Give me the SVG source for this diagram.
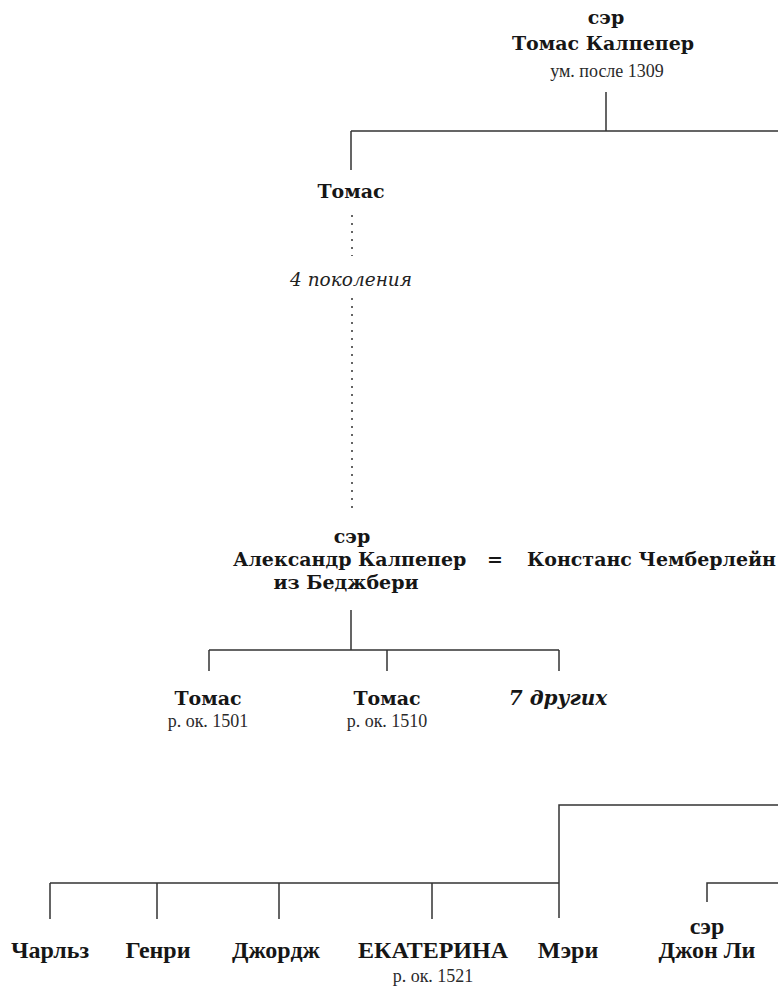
<svg xmlns="http://www.w3.org/2000/svg" width="778" height="990" viewBox="0 0 778 990">
<style>
.n{font-family:"DejaVu Serif","Liberation Serif",serif;font-weight:bold;font-size:19px;fill:#161616;text-anchor:middle}
.s{font-family:"Liberation Serif",serif;font-size:18px;fill:#2a2a2a;text-anchor:middle}
.i{font-family:"DejaVu Serif","Liberation Serif",serif;font-style:italic;font-size:18.5px;fill:#222;text-anchor:middle}
.bi{font-family:"DejaVu Serif","Liberation Serif",serif;font-style:italic;font-weight:bold;font-size:20px;fill:#161616;text-anchor:middle}
.b{font-family:"Liberation Serif",serif;font-weight:bold;font-size:24px;fill:#161616;text-anchor:middle}
.l{stroke:#333;stroke-width:1.5;fill:none}
.d{stroke:#333;stroke-width:1.5;fill:none;stroke-dasharray:2 6}
</style>
<rect width="778" height="990" fill="#fff"/>
<g id="connectors">
<path class="l" d="M606 92V131M351 131H778M351 131V170"/>
<path class="d" d="M352 215V256M352 298V513"/>
<path class="l" d="M351 610V650M209 650H559M209 650V671M387 650V671M559 650V671"/>
<path class="l" d="M778 805H559V918M50 883H559M50 883V919M157 883V919M279 883V919M432 883V919"/>
<path class="l" d="M778 883H707V902"/>
</g>
<g id="thomas-culpeper-sr">
<text class="n" x="606" y="24">сэр</text>
<text class="n" x="603" y="50">Томас Калпепер</text>
<text class="s" x="607" y="77">ум. после 1309</text>
</g>
<g id="thomas-1">
<text class="n" x="351" y="198">Томас</text>
</g>
<g id="generations">
<text class="i" x="351" y="286">4 поколения</text>
</g>
<g id="alexander">
<text class="n" x="352" y="543">сэр</text>
<text class="n" x="233" y="566" style="text-anchor:start">Александр Калпепер</text>
<text class="n" x="346" y="589">из Беджбери</text>
</g>
<g id="eq">
<text class="n" x="495" y="566">=</text>
</g>
<g id="constance">
<text class="n" x="776" y="566" style="text-anchor:end">Констанс Чемберлейн</text>
</g>
<g id="thomas-1501">
<text class="n" x="208" y="705">Томас</text>
<text class="s" x="208" y="727">р. ок. 1501</text>
</g>
<g id="thomas-1510">
<text class="n" x="387" y="705">Томас</text>
<text class="s" x="387" y="727">р. ок. 1510</text>
</g>
<g id="seven-others">
<text class="bi" x="558" y="705">7 других</text>
</g>
<g id="charles"><text class="b" x="50" y="958">Чарльз</text></g>
<g id="henry"><text class="b" x="158" y="958">Генри</text></g>
<g id="george"><text class="b" x="276" y="958">Джордж</text></g>
<g id="catherine"><text class="b" x="433" y="958">ЕКАТЕРИНА</text><text class="s" x="433" y="982">р. ок. 1521</text></g>
<g id="mary"><text class="b" x="568" y="958">Мэри</text></g>
<g id="john-leigh"><text class="b" x="707" y="934">сэр</text><text class="b" x="707" y="958">Джон Ли</text></g>
</svg>
